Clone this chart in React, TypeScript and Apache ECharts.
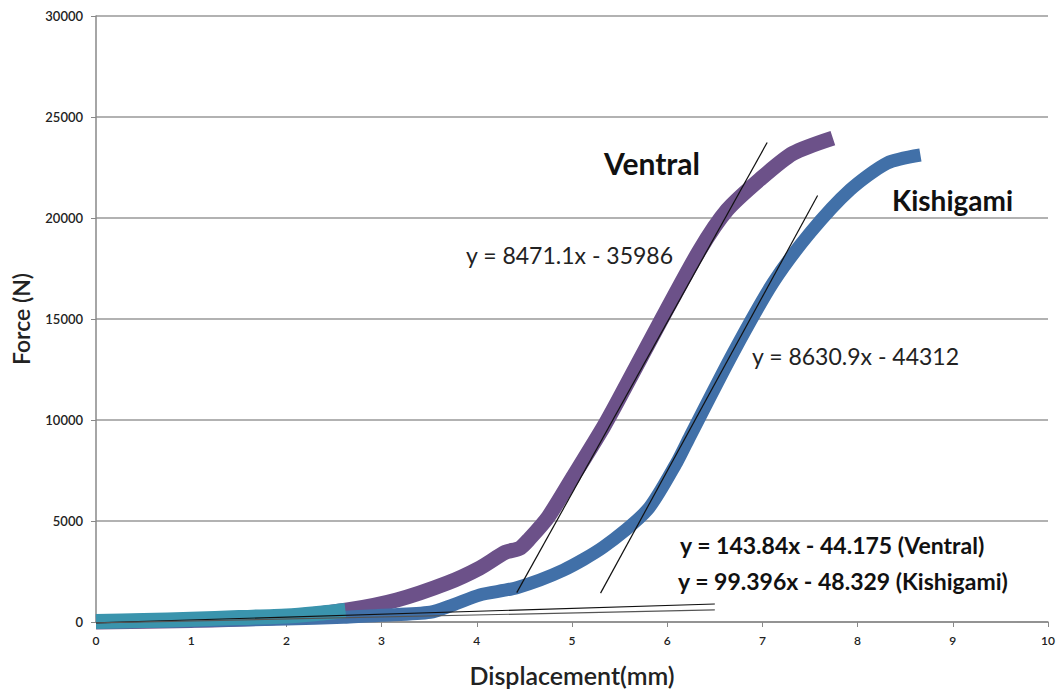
import React, { useEffect, useRef } from "react";
import * as echarts from "echarts";

const ventralX = [0, 1, 2, 2.64, 3.16, 3.69, 4.03, 4.3, 4.45, 4.55, 4.75, 5.01, 5.33, 5.47, 5.92, 6.34, 6.63, 6.97, 7.32, 7.74];
const ventralY = [0, 80, 250, 594, 1090, 1930, 2670, 3450, 3650, 4100, 5200, 7180, 9650, 10840, 14800, 18400, 20400, 21900, 23200, 23960];

const kishiX = [0, 1, 2, 2.6, 3.0, 3.51, 3.75, 4.03, 4.42, 4.91, 5.33, 5.79, 6.1, 6.24, 6.69, 7.11, 7.5, 7.92, 8.31, 8.66];
const kishiY = [0, 50, 150, 230, 330, 480, 850, 1340, 1700, 2570, 3710, 5540, 7900, 9200, 13300, 16780, 19260, 21390, 22720, 23120];

const startX = [0, 0.5, 1, 1.5, 2, 2.3, 2.62];
const startY = [20, 70, 140, 220, 300, 410, 570];

const ventralTrendX = [4.42, 7.05];
const ventralTrendY = [1456, 23736];
const kishiTrendX = [5.3, 7.58];
const kishiTrendY = [1431, 21110];
const ventralLowX = [0, 6.5];
const ventralLowY = [-44, 891];
const kishiLowX = [0, 6.5];
const kishiLowY = [-48, 598];

const xTicks = [0, 1, 2, 3, 4, 5, 6, 7, 8, 9, 10];
const yTicks = [0, 5000, 10000, 15000, 20000, 25000, 30000];

const zip = (xs: number[], ys: number[]) => xs.map((x, i) => [x, ys[i]]);

export default function App() {
  const ref = useRef<HTMLDivElement>(null);
  useEffect(() => {
    if (!ref.current) return;
    const chart = echarts.init(ref.current, undefined, { renderer: "svg" });
    const font = "Lato, 'Open Sans', sans-serif";
    const thick = (name: string, xs: number[], ys: number[], color: string, w: number) => ({
      type: "line",
      name,
      data: zip(xs, ys),
      showSymbol: false,
      smooth: 0.25,
      clip: false,
      lineStyle: { color, width: w, cap: "butt", join: "round" },
      z: 2,
    });
    const thin = (xs: number[], ys: number[], color: string) => ({
      type: "line",
      data: zip(xs, ys),
      showSymbol: false,
      clip: false,
      lineStyle: { color, width: 1.2 },
      z: 5,
    });
    chart.setOption({
      animation: false,
      backgroundColor: "#fff",
      grid: { left: 96, right: 12, top: 16, bottom: 68, outerBoundsMode: "none", containLabel: false },
      xAxis: {
        type: "value",
        min: 0,
        max: 10,
        interval: 1,
        name: "Displacement(mm)",
        nameLocation: "middle",
        nameGap: 40,
        nameTextStyle: { fontFamily: font, fontSize: 25, fontWeight: 600, color: "#222" },
        axisLine: { show: true, lineStyle: { color: "#888", width: 1.5 } },
        axisTick: { show: true, inside: false, length: 5, lineStyle: { color: "#888" } },
        axisLabel: {
          fontFamily: font, fontSize: 12, fontWeight: 600, color: "#222", margin: 12,
          formatter: (v: number) => (xTicks.includes(v) ? String(v) : ""),
        },
        splitLine: { show: false },
      },
      yAxis: {
        type: "value",
        min: 0,
        max: 30000,
        interval: 5000,
        name: "Force (N)",
        nameLocation: "middle",
        nameGap: 64,
        nameRotate: 90,
        nameTextStyle: { fontFamily: font, fontSize: 23, fontWeight: 600, color: "#222" },
        axisLine: { show: true, lineStyle: { color: "#888", width: 1.5 } },
        axisTick: { show: true, inside: false, length: 5, lineStyle: { color: "#888" } },
        axisLabel: {
          fontFamily: font, fontSize: 13, fontWeight: 600, color: "#222", margin: 13,
          formatter: (v: number) => (yTicks.includes(v) ? String(v) : ""),
        },
        splitLine: { show: true, lineStyle: { color: "#999", width: 1.5 } },
      },
      series: [
        thick("Ventral", ventralX, ventralY, "#6C5189", 15),
        thick("Kishigami", kishiX, kishiY, "#4170A8", 13),
        { ...thick("Start", startX, startY, "#3A94AD", 15), z: 3 },
        thin(ventralTrendX, ventralTrendY, "#111"),
        thin(kishiTrendX, kishiTrendY, "#111"),
        thin(ventralLowX, ventralLowY, "#111"),
        thin(kishiLowX, kishiLowY, "#555"),
      ],
      graphic: [
        { type: "text", left: 604, top: 148, style: { text: "Ventral", font: `bold 30px ${font}`, fill: "#111" } },
        { type: "text", left: 892, top: 186, style: { text: "Kishigami", font: `bold 28px ${font}`, fill: "#111" } },
        { type: "text", left: 466, top: 243, style: { text: "y = 8471.1x - 35986", font: `23px ${font}`, fill: "#222" } },
        { type: "text", left: 752, top: 344, style: { text: "y = 8630.9x - 44312", font: `23px ${font}`, fill: "#222" } },
        { type: "text", left: 680, top: 533, style: { text: "y = 143.84x - 44.175 (Ventral)", font: `bold 23px ${font}`, fill: "#111" } },
        { type: "text", left: 678, top: 569, style: { text: "y = 99.396x - 48.329 (Kishigami)", font: `bold 23px ${font}`, fill: "#111" } },
      ],
    });
    return () => chart.dispose();
  }, []);
  return <div ref={ref} style={{ width: 1060, height: 690, position: "absolute", left: 0, top: 0 }} />;
}
